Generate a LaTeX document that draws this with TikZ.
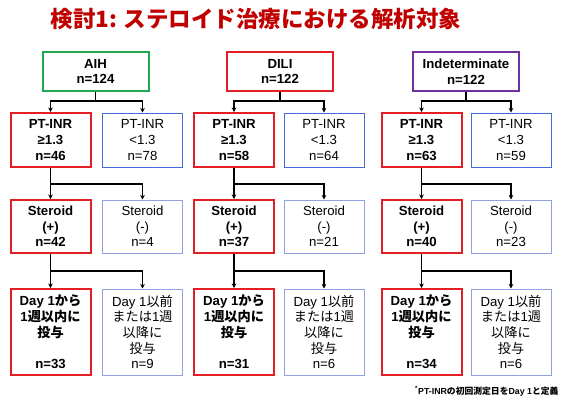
\documentclass[tikz,border=0pt]{standalone}
\usepackage{fontspec}
\setmainfont{Liberation Sans}
\newfontfamily\jpfont{Noto Sans CJK JP}
\usetikzlibrary{arrows.meta}
\definecolor{boxred}{RGB}{226,30,38}
\definecolor{boxblue}{RGB}{70,105,222}
\definecolor{lightblue}{RGB}{145,162,228}
\definecolor{boxgreen}{RGB}{34,168,80}
\definecolor{boxpurple}{RGB}{112,48,160}
\definecolor{titlered}{RGB}{192,0,0}
\newcommand\jpt[1]{{\jpfont #1}}
\begin{document}
\begin{tikzpicture}[x=1pt,y=-1pt,
  base/.style={draw, rectangle, align=center, inner sep=0pt, font=\fontsize{13.2}{15.7}\selectfont},
  topbox/.style={base, minimum width=106pt, minimum height=39pt, line width=2pt, font=\fontsize{13.2}{15.7}\selectfont\bfseries},
  hit/.style={base, minimum width=80pt, line width=2pt, draw=boxred, font=\fontsize{13.2}{15.7}\selectfont\bfseries},
  miss/.style={base, minimum width=80pt, line width=1pt, draw=boxblue},
  misslight/.style={base, minimum width=80pt, line width=1pt, draw=lightblue},
  row1/.style={minimum height=54pt},
  row2/.style={minimum height=53pt},
  row3/.style={minimum height=86pt},
  link/.style={line width=1.2pt},
  conn/.style={line width=1.2pt, -{Stealth[length=4.5pt,width=4.5pt]}}
]
\useasboundingbox (0,0) rectangle (565,399);

\node[font=\jpfont\fontsize{22.5}{26}\selectfont\bfseries, text=titlered] (title) at (256,18.5) {検討1: ステロイド治療における解析対象};

% column 1
\node[topbox, draw=boxgreen] (t1) at (95.5,71.5) {AIH\\n=124};
\node[hit, row1] (p1) at (50.5,140) {PT-INR\\≥1.3\\n=46};
\node[miss, row1] (q1) at (142.5,140) {PT-INR\\<1.3\\n=78};
\node[hit, row2] (s1) at (50.5,226.5) {Steroid\\(+)\\n=42};
\node[misslight, row2] (u1) at (142.5,226.5) {Steroid\\(-)\\n=4};
\node[hit, row3] (d1) at (50.5,332) {Day 1\jpt{から}\\1\jpt{週以内に}\\\jpt{投与}\\[15.7pt]n=33};
\node[misslight, row3] (e1) at (142.5,332) {Day 1\jpt{以前}\\\jpt{または}1\jpt{週}\\\jpt{以降に}\\\jpt{投与}\\n=9};

% column 2
\node[topbox, draw=boxred] (t2) at (280,71.5) {DILI\\n=122};
\node[hit, row1] (p2) at (234,140) {PT-INR\\≥1.3\\n=58};
\node[miss, row1] (q2) at (324,140) {PT-INR\\<1.3\\n=64};
\node[hit, row2] (s2) at (234,226.5) {Steroid\\(+)\\n=37};
\node[misslight, row2] (u2) at (324,226.5) {Steroid\\(-)\\n=21};
\node[hit, row3] (d2) at (234,332) {Day 1\jpt{から}\\1\jpt{週以内に}\\\jpt{投与}\\[15.7pt]n=31};
\node[misslight, row3] (e2) at (324,332) {Day 1\jpt{以前}\\\jpt{または}1\jpt{週}\\\jpt{以降に}\\\jpt{投与}\\n=6};

% column 3
\node[topbox, draw=boxpurple] (t3) at (466,71.5) {Indeterminate\\n=122};
\node[hit, row1] (p3) at (421.5,140) {PT-INR\\≥1.3\\n=63};
\node[miss, row1] (q3) at (511,140) {PT-INR\\<1.3\\n=59};
\node[hit, row2] (s3) at (421.5,226.5) {Steroid\\(+)\\n=40};
\node[misslight, row2] (u3) at (511,226.5) {Steroid\\(-)\\n=23};
\node[hit, row3] (d3) at (421.5,332) {Day 1\jpt{から}\\1\jpt{週以内に}\\\jpt{投与}\\[15.7pt]n=34};
\node[misslight, row3] (e3) at (511,332) {Day 1\jpt{以前}\\\jpt{または}1\jpt{週}\\\jpt{以降に}\\\jpt{投与}\\n=6};

\foreach \i in {1,2,3} {
  \draw[link] (t\i.south) -- ++(0,9) coordinate (ja\i);
  \draw[conn] (ja\i) -| (p\i.north);
  \draw[conn] (ja\i) -| (q\i.north);
  \draw[link] (p\i.south) -- ++(0,16) coordinate (jb\i);
  \draw[conn] (jb\i) -| (s\i.north);
  \draw[conn] (jb\i) -| (u\i.north);
  \draw[link] (s\i.south) -- ++(0,17) coordinate (jc\i);
  \draw[conn] (jc\i) -| (d\i.north);
  \draw[conn] (jc\i) -| (e\i.north);
}

\node[anchor=east, font=\fontsize{8.8}{10}\selectfont\bfseries] (fn) at (562,391) {\textsuperscript{*}PT-INR\jpt{の初回測定日を}Day 1\jpt{と定義}};
\end{tikzpicture}
\end{document}
